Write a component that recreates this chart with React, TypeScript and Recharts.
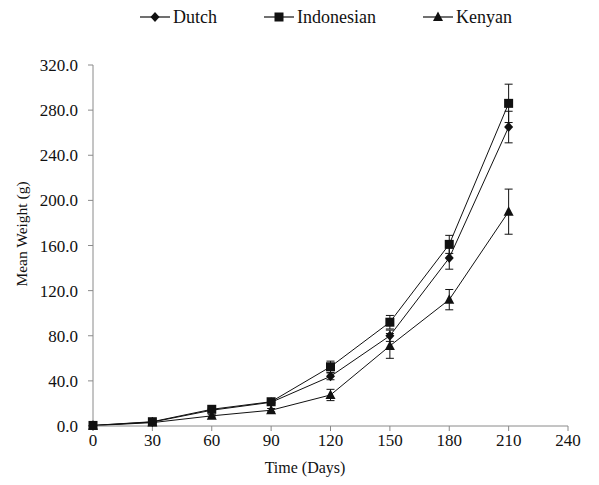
import React from 'react';
import { ComposedChart, Line, XAxis, YAxis, ErrorBar } from 'recharts';

const days = [0, 30, 60, 90, 120, 150, 180, 210];
const dutch = [0.5, 3.5, 14, 21, 44, 80, 149, 265];
const dutchErr = [0, 0.5, 1, 1, 3, 5, 10, 14];
const indonesian = [0.5, 3.8, 14.8, 21.5, 52.5, 92, 161, 286];
const indonesianErr = [0, 0.5, 1, 1.5, 5, 6, 8, 17];
const kenyan = [0.3, 3, 9, 14, 27.5, 71, 112, 190];
const kenyanErr = [0, 0.5, 1, 1.5, 5, 11, 9, 20];
const xTicks = [0, 30, 60, 90, 120, 150, 180, 210, 240];
const yTicks = [0, 40, 80, 120, 160, 200, 240, 280, 320];
const seriesNames = ['Dutch', 'Indonesian', 'Kenyan'];

const data = days.map((d, i) => ({
  day: d,
  dutch: dutch[i],
  dutchErr: dutchErr[i],
  indonesian: indonesian[i],
  indonesianErr: indonesianErr[i],
  kenyan: kenyan[i],
  kenyanErr: kenyanErr[i],
}));

const FONT = 'Liberation Serif, Times New Roman, serif';
const INK = '#111';
const AXIS = '#8a8a8a';

const Diamond = (props: any) => {
  const { cx, cy } = props;
  if (cx == null || cy == null) return null;
  return <path d={`M${cx},${cy - 5}L${cx + 4.5},${cy}L${cx},${cy + 5}L${cx - 4.5},${cy}Z`} fill={INK} />;
};
const Square = (props: any) => {
  const { cx, cy } = props;
  if (cx == null || cy == null) return null;
  return <rect x={cx - 4.5} y={cy - 4.5} width={9} height={9} fill={INK} />;
};
const Triangle = (props: any) => {
  const { cx, cy } = props;
  if (cx == null || cy == null) return null;
  return <path d={`M${cx},${cy - 5.5}L${cx + 5},${cy + 4}L${cx - 5},${cy + 4}Z`} fill={INK} />;
};

const shapes = [Diamond, Square, Triangle];

const LegendBlock = () => (
  <div
    style={{
      position: 'absolute',
      top: 7,
      left: 140,
      display: 'flex',
      fontFamily: FONT,
      fontSize: 18,
      lineHeight: '20px',
      color: INK,
      whiteSpace: 'nowrap',
    }}
  >
    {seriesNames.map((n, i) => {
      const S = shapes[i];
      return (
        <div key={n} style={{ display: 'flex', alignItems: 'center', marginRight: i < 2 ? 47 : 0 }}>
          <svg width={30} height={14} style={{ marginRight: 3 }}>
            <line x1={0} y1={7} x2={30} y2={7} stroke={INK} strokeWidth={1.2} />
            <S cx={15} cy={7} />
          </svg>
          <span>{n}</span>
        </div>
      );
    })}
  </div>
);

export default function App() {
  return (
    <div style={{ position: 'absolute', left: 0, top: 0, width: 599, height: 485, background: '#fff' }}>
      <LegendBlock />
      <ComposedChart width={599} height={485} data={data} margin={{ top: 65, right: 31, bottom: 29, left: 0 }}>
        <XAxis
          dataKey="day"
          type="number"
          domain={[0, 240]}
          ticks={xTicks}
          height={30}
          stroke={AXIS}
          tickSize={5}
          tickMargin={3}
          tick={{ fill: INK, fontFamily: FONT, fontSize: 17 }}
          label={{
            content: () => (
              <text x={305} y={467} textAnchor="middle" dominantBaseline="central" fontFamily={FONT} fontSize={16} fill={INK}>
                Time (Days)
              </text>
            ),
          }}
        />
        <YAxis
          type="number"
          domain={[0, 320]}
          ticks={yTicks}
          width={93}
          stroke={AXIS}
          tickSize={5}
          tickMargin={10}
          tickFormatter={(v: number) => v.toFixed(1)}
          tick={{ fill: INK, fontFamily: FONT, fontSize: 17 }}
          label={{
            content: () => (
              <text x={21} y={234} transform="rotate(-90 21 234)" textAnchor="middle" dominantBaseline="central" fontFamily={FONT} fontSize={15.5} fill={INK}>
                Mean Weight (g)
              </text>
            ),
          }}
        />
        <Line type="linear" dataKey="kenyan" name="Kenyan" stroke={INK} strokeWidth={1} dot={<Triangle />} activeDot={false} isAnimationActive={false}>
          <ErrorBar dataKey="kenyanErr" direction="y" width={4} stroke={INK} strokeWidth={1} />
        </Line>
        <Line type="linear" dataKey="dutch" name="Dutch" stroke={INK} strokeWidth={1} dot={<Diamond />} activeDot={false} isAnimationActive={false}>
          <ErrorBar dataKey="dutchErr" direction="y" width={4} stroke={INK} strokeWidth={1} />
        </Line>
        <Line type="linear" dataKey="indonesian" name="Indonesian" stroke={INK} strokeWidth={1} dot={<Square />} activeDot={false} isAnimationActive={false}>
          <ErrorBar dataKey="indonesianErr" direction="y" width={4} stroke={INK} strokeWidth={1} />
        </Line>
      </ComposedChart>
    </div>
  );
}
